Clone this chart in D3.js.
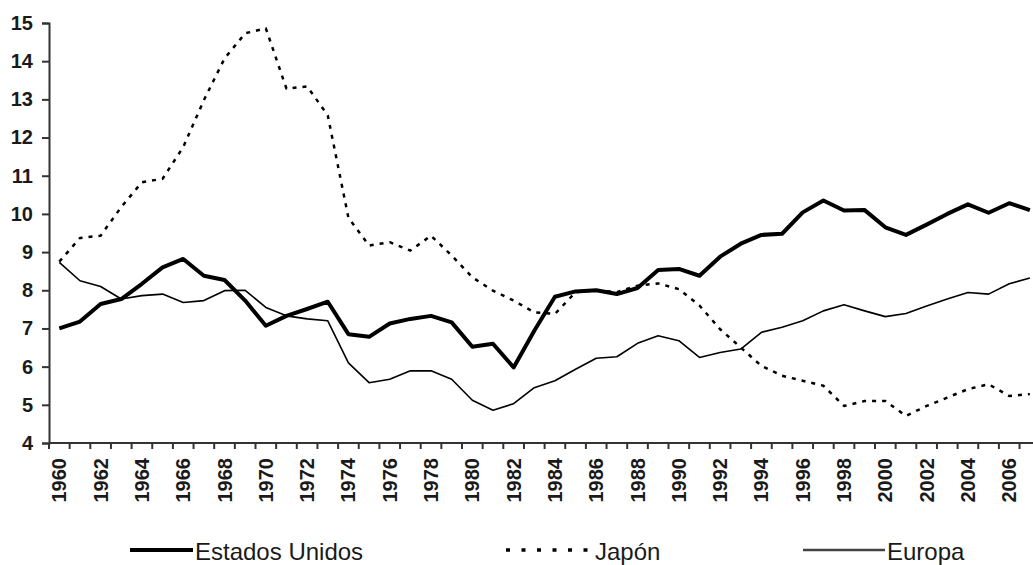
<!DOCTYPE html>
<html>
<head>
  <style>
    body { margin: 0; background: #fff; }
    text { font-family: "Liberation Sans", Arial, sans-serif; fill: #1a1a1a; }
  </style>
</head>
<body>
  <svg id="chart" width="1033" height="565"></svg>
  <script src="https://d3js.org/d3.v7.min.js"></script>
  <script>
    // years on the category axis
    const years = [1960, 1961, 1962, 1963, 1964, 1965, 1966, 1967, 1968, 1969,
      1970, 1971, 1972, 1973, 1974, 1975, 1976, 1977, 1978, 1979,
      1980, 1981, 1982, 1983, 1984, 1985, 1986, 1987, 1988, 1989,
      1990, 1991, 1992, 1993, 1994, 1995, 1996, 1997, 1998, 1999,
      2000, 2001, 2002, 2003, 2004, 2005, 2006, 2007];

    const estadosUnidos = [7.0, 7.18, 7.64, 7.77, 8.17, 8.6, 8.82, 8.38, 8.27, 7.73,
      7.07, 7.33, 7.51, 7.7, 6.85, 6.78, 7.13, 7.25, 7.33, 7.16,
      6.52, 6.6, 5.98, 6.94, 7.83, 7.97, 8.0, 7.9, 8.06, 8.53,
      8.56, 8.38, 8.88, 9.22, 9.45, 9.48, 10.04, 10.35, 10.09, 10.1,
      9.65, 9.45, 9.72, 10.0, 10.25, 10.03, 10.28, 10.1];

    const japon = [8.75, 9.37, 9.43, 10.18, 10.83, 10.92, 11.75, 12.98, 14.07, 14.73,
      14.86, 13.28, 13.34, 12.58, 9.9, 9.17, 9.26, 9.04, 9.43, 8.91,
      8.34, 7.99, 7.73, 7.42, 7.38, 7.95, 8.0, 7.95, 8.12, 8.18,
      8.03, 7.6, 6.98, 6.5, 6.02, 5.76, 5.63, 5.5, 4.97, 5.1,
      5.1, 4.71, 4.97, 5.19, 5.41, 5.54, 5.23, 5.28];

    const europa = [8.73, 8.25, 8.1, 7.77, 7.86, 7.9, 7.68, 7.73, 7.99, 8.0,
      7.55, 7.33, 7.25, 7.2, 6.1, 5.58, 5.67, 5.89, 5.89, 5.67,
      5.12, 4.86, 5.03, 5.45, 5.63, 5.93, 6.22, 6.26, 6.61, 6.81,
      6.68, 6.24, 6.37, 6.46, 6.9, 7.03, 7.2, 7.46, 7.62, 7.46,
      7.31, 7.39, 7.59, 7.77, 7.94, 7.9, 8.17, 8.32];

    const yTicks = [4, 5, 6, 7, 8, 9, 10, 11, 12, 13, 14, 15];
    const xLabels = years.filter(y => y % 2 === 0);

    const svg = d3.select("#chart");

    const plotLeft = 49, plotBottom = 443, plotTop = 23;
    const step = 20.65;

    const x = d3.scaleBand()
      .domain(years)
      .range([plotLeft, plotLeft + step * years.length]);
    const y = d3.scaleLinear()
      .domain([4, 15])
      .range([plotBottom, plotTop]);

    const cx = d => x(d) + x.bandwidth() / 2;

    // y axis
    const yAxis = svg.append("g")
      .attr("transform", `translate(${plotLeft},0)`)
      .call(d3.axisLeft(y).tickValues(yTicks).tickSize(7).tickPadding(9));
    yAxis.selectAll("text").style("font-size", "20px").style("font-weight", "bold");
    yAxis.select(".domain").attr("stroke", "#333").attr("stroke-width", 2);
    yAxis.selectAll(".tick line").attr("stroke", "#333").attr("stroke-width", 2);

    // x axis: ticks between categories, labels every two years
    const xAxis = svg.append("g")
      .attr("transform", `translate(0,${plotBottom})`);
    xAxis.append("line")
      .attr("x1", plotLeft).attr("x2", 1033)
      .attr("stroke", "#333").attr("stroke-width", 2);
    xAxis.selectAll("line.tick")
      .data(years)
      .enter().append("line")
      .attr("class", "tick")
      .attr("x1", d => x(d)).attr("x2", d => x(d))
      .attr("y1", 0).attr("y2", 6)
      .attr("stroke", "#333").attr("stroke-width", 2);
    xAxis.selectAll("text")
      .data(xLabels)
      .enter().append("text")
      .attr("transform", d => `translate(${cx(d) + 7},15) rotate(-90)`)
      .attr("text-anchor", "end")
      .style("font-size", "20px")
      .style("font-weight", "bold")
      .text(d => d);

    const series = [
      { name: "Estados Unidos", values: estadosUnidos, width: 4, dash: null },
      { name: "Japón", values: japon, width: 2.5, dash: "4,6" },
      { name: "Europa", values: europa, width: 1.6, dash: null }
    ];

    const line = d3.line()
      .x((d, i) => cx(years[i]))
      .y(d => y(d));

    svg.selectAll("path.serie")
      .data(series)
      .enter().append("path")
      .attr("class", "serie")
      .attr("fill", "none")
      .attr("stroke", "#000")
      .attr("stroke-width", d => d.width)
      .attr("stroke-dasharray", d => d.dash)
      .attr("stroke-linejoin", "round")
      .attr("d", d => line(d.values));

    // legend
    const legendPos = [[130, 193], [506, 592], [803, 885]];
    const legend = svg.append("g");
    series.forEach((s, i) => {
      legend.append("line")
        .attr("x1", legendPos[i][0]).attr("x2", legendPos[i][1])
        .attr("y1", 550).attr("y2", 550)
        .attr("stroke", i === 2 ? "#444" : "#000")
        .attr("stroke-width", i === 0 ? 4 : (i === 1 ? 3.5 : 2.5))
        .attr("stroke-dasharray", i === 1 ? "4,11.5" : null);
      legend.append("text")
        .attr("x", legendPos[i][1] + (i === 1 ? 3 : 2))
        .attr("y", 560)
        .style("font-size", "24px")
        .text(s.name);
    });
  </script>
</body>
</html>
